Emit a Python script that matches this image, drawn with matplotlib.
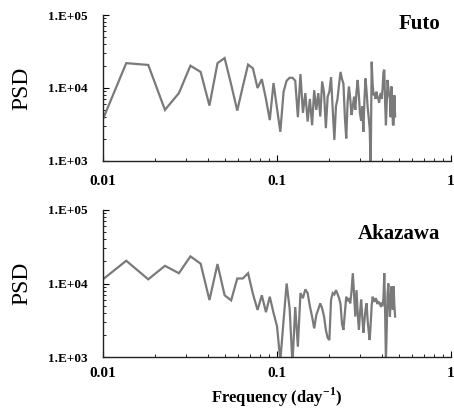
import matplotlib
matplotlib.use("Agg")
import matplotlib.pyplot as plt
from matplotlib.ticker import LogLocator, FixedLocator, NullFormatter

# ---------------- data ----------------
frequency = [
    0.0091, 0.0136, 0.0182, 0.0227, 0.0273, 0.0318, 0.0364, 0.0409, 0.0455, 0.0500,
    0.0545, 0.0591, 0.0636, 0.0682, 0.0727, 0.0773, 0.0818, 0.0864, 0.0909, 0.0955,
    0.1000, 0.1045, 0.1091, 0.1136, 0.1182, 0.1227, 0.1273, 0.1318, 0.1364, 0.1409,
    0.1455, 0.1500, 0.1545, 0.1591, 0.1636, 0.1682, 0.1727, 0.1773, 0.1818, 0.1864,
    0.1909, 0.1955, 0.2000, 0.2045, 0.2091, 0.2136, 0.2182, 0.2227, 0.2273, 0.2318,
    0.2364, 0.2409, 0.2455, 0.2500, 0.2545, 0.2591, 0.2636, 0.2682, 0.2727, 0.2773,
    0.2818, 0.2864, 0.2909, 0.2955, 0.3000, 0.3045, 0.3091, 0.3136, 0.3182, 0.3227,
    0.3273, 0.3318, 0.3364, 0.3409, 0.3455, 0.3500, 0.3545, 0.3591, 0.3636, 0.3682,
    0.3727, 0.3773, 0.3818, 0.3864, 0.3909, 0.3955, 0.4000, 0.4045, 0.4091, 0.4136,
    0.4182, 0.4227, 0.4273, 0.4318, 0.4364, 0.4409, 0.4455, 0.4500, 0.4545, 0.4591,
    0.4636, 0.4682, 0.4727, 0.4773,
]

psd_futo = [
    2190, 21900, 20700, 5010, 8510, 20200, 16600, 5750, 21900, 25700,
    11200, 4900, 10500, 20900, 18600, 10000, 13200, 7080, 3630, 11700,
    5250, 2510, 8910, 12600, 13800, 13800, 12600, 3980, 15500, 4570,
    8510, 3470, 7080, 3090, 9330, 5010, 8510, 4070, 12300, 8510,
    2820, 7590, 8910, 14100, 5010, 1950, 5620, 7080, 11200, 16600,
    13200, 11500, 3980, 2040, 6310, 10500, 7080, 4270, 5620, 7590,
    5010, 8910, 12900, 7940, 4470, 3550, 5620, 2510, 7080, 13500,
    8910, 5500, 3980, 2820, 794, 22900, 11200, 7940, 8510, 7080,
    8910, 7590, 7240, 6310, 7940, 8510, 7080, 10000, 16600, 17800,
    6310, 3090, 6310, 12900, 10000, 7940, 7080, 3980, 10500, 6310,
    3160, 3090, 7940, 4070,
]

psd_akazawa = [
    9550, 20400, 11400, 17400, 13800, 23400, 18600, 5960, 18400, 6920,
    5890, 11700, 11700, 13800, 7240, 4370, 6920, 4070, 6610, 3980,
    2630, 891, 3160, 10000, 4570, 794, 4790, 1380, 7410, 6310,
    8320, 7410, 4900, 3550, 2450, 3720, 4470, 5370, 4570, 3550,
    2340, 1820, 1700, 6030, 7410, 7080, 8130, 7240, 6310, 5250,
    2820, 2340, 3980, 6610, 5750, 6310, 5370, 7940, 13800, 7080,
    3550, 8130, 3980, 2340, 3980, 6030, 3550, 2140, 3160, 4470,
    5370, 3160, 2240, 1700, 2820, 5010, 6610, 6030, 5620, 6310,
    6030, 5250, 5750, 5370, 5370, 4790, 5250, 5130, 6310, 13800,
    3980, 891, 2510, 7080, 10000, 5620, 3550, 5620, 9120, 6310,
    4370, 9120, 5010, 3550,
]

y_ticks = [1e3, 1e4, 1e5]
y_tick_labels = ["1.E+03", "1.E+04", "1.E+05"]
x_ticks = [0.01, 0.1, 1]
x_tick_labels = ["0.01", "0.1", "1"]
panel_names = ["Futo", "Akazawa"]

# ---------------- style ----------------
plt.rcParams["font.family"] = ["Liberation Serif", "DejaVu Serif"]
plt.rcParams["mathtext.fontset"] = "custom"
plt.rcParams["mathtext.rm"] = "Liberation Serif:bold"
plt.rcParams["mathtext.bf"] = "Liberation Serif:bold"

W, H = 454, 412
fig = plt.figure(figsize=(W / 100, H / 100), dpi=100)

def px_rect(left, top, right, bottom):
    return [left / W, 1 - bottom / H, (right - left) / W, (bottom - top) / H]

ax_top = fig.add_axes(px_rect(103, 15, 451, 161))
ax_bot = fig.add_axes(px_rect(103, 210, 451, 357))

line_color = "#7a7a7a"

for ax, psd, name, xpad in [(ax_top, psd_futo, panel_names[0], 10),
                            (ax_bot, psd_akazawa, panel_names[1], 7)]:
    ax.plot(frequency, psd, color=line_color, lw=1.6, solid_joinstyle="miter")
    ax.set_xscale("log")
    ax.set_yscale("log")
    ax.set_xlim(0.01, 1)
    ax.set_ylim(1e3, 1e5)
    for s in ["top", "right"]:
        ax.spines[s].set_visible(False)
    for s in ["left", "bottom"]:
        ax.spines[s].set_linewidth(1.0)
        ax.spines[s].set_color("#222222")
    ax.yaxis.set_major_locator(FixedLocator(y_ticks))
    ax.set_yticklabels(y_tick_labels, fontsize=9.5, fontweight="bold")
    ax.xaxis.set_major_locator(FixedLocator(x_ticks))
    ax.set_xticklabels(x_tick_labels, fontsize=11, fontweight="bold")
    ax.xaxis.set_minor_locator(LogLocator(base=10, subs=range(2, 10)))
    ax.yaxis.set_minor_locator(LogLocator(base=10, subs=range(2, 10)))
    ax.xaxis.set_minor_formatter(NullFormatter())
    ax.yaxis.set_minor_formatter(NullFormatter())
    ax.tick_params(axis="both", which="major", direction="in", length=4, width=0.8)
    ax.tick_params(axis="both", which="minor", direction="in", length=2.5, width=0.6)
    ax.tick_params(axis="y", which="major", pad=11)
    ax.tick_params(axis="x", which="major", pad=xpad)
    ax.set_ylabel("PSD", fontsize=17, labelpad=11)
    ax.text(0.97, 0.94 if name == "Futo" else 0.84, name, transform=ax.transAxes,
            ha="right", va="center", fontsize=15, fontweight="bold")

ax_bot.set_xlabel("Frequency (day$^{-1}$)", fontsize=12, fontweight="bold", labelpad=4)

fig.savefig("out.png", dpi=100)
